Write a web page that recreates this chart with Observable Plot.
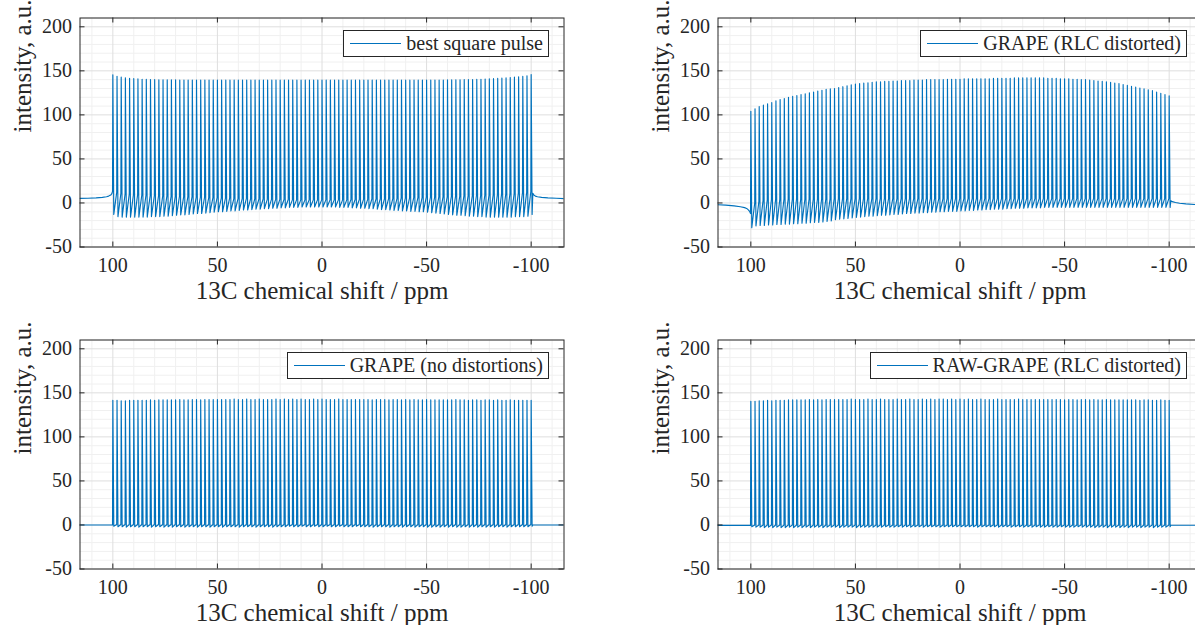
<!DOCTYPE html>
<html><head><meta charset="utf-8">
<script src="https://cdn.jsdelivr.net/npm/d3@7"></script>
<script src="https://cdn.jsdelivr.net/npm/@observablehq/plot@0.6"></script>
<style>
html,body{margin:0;padding:0;background:#fff;}
body{width:1195px;height:625px;overflow:hidden;position:relative;font-family:'Liberation Serif',serif;}
.panel{position:absolute;width:580px;}
.legend{position:absolute;right:31px;top:30px;height:25px;border:1px solid #262626;background:#fff;display:flex;align-items:center;padding:0 5px 0 6px;font-size:20px;color:#262626;white-space:nowrap;box-sizing:content-box;}
.legend .sw{display:inline-block;width:51px;height:1px;background:#0072BD;margin-right:5px;}
</style></head><body>
<script>
// ---- axis / tick definitions ----
const xTicks = [100, 50, 0, -50, -100];
const yTicks = [-50, 0, 50, 100, 150, 200];
const xLabel = "13C chemical shift / ppm";
const yLabel = "intensity, a.u.";
const legendNames = ["best square pulse", "GRAPE (RLC distorted)", "GRAPE (no distortions)", "RAW-GRAPE (RLC distorted)"];
// peak positions (ppm): 100, 98, ..., -100
const peakPpm = d3.range(100, -101, -2);

// ---- panel 1: best square pulse ----
const sqTop = [145.5,143.8,142.8,142.2,141.6,141.2,140.8,140.5,140.3,140.1,
140.0,139.9,139.8,139.8,139.7,139.7,139.6,139.6,139.6,139.5,
139.5,139.5,139.5,139.4,139.4,139.4,139.4,139.4,139.4,139.4,
139.4,139.4,139.4,139.4,139.4,139.4,139.4,139.4,139.4,139.4,
139.4,139.4,139.4,139.4,139.4,139.4,139.4,139.4,139.4,139.4,
139.4,139.4,139.4,139.4,139.4,139.4,139.4,139.4,139.4,139.4,
139.4,139.4,139.4,139.4,139.4,139.4,139.4,139.4,139.4,139.4,
139.4,139.4,139.4,139.4,139.5,139.5,139.5,139.5,139.6,139.6,
139.7,139.7,139.8,139.9,140.0,140.1,140.2,140.3,140.5,140.7,
140.9,141.1,141.4,141.7,142.0,142.4,142.8,143.2,143.7,144.3,
145.8];
const sqDip = [-13,-15.5,-16,-16,-16,-16,-16,-16,-16,-15.5,
-15.5,-15.5,-15,-15,-14.5,-14,-13.5,-13.5,-13,-12.5,
-12,-12,-11.5,-11,-10.5,-10,-10,-9.5,-9,-9,
-8.5,-8,-8,-7.5,-7,-7,-6.5,-6.5,-6,-6,
-5.5,-5.5,-5,-5,-5,-4.5,-4.5,-4.5,-4.5,-4.5,
-4.5,-4.5,-4.5,-4.5,-5,-5,-5,-5.5,-5.5,-6,
-6,-6.5,-6.5,-7,-7.5,-7.5,-8,-8.5,-8.5,-9,
-9,-9.5,-9.5,-10,-10,-10.5,-11,-11.5,-12,-12.5,
-13,-13.5,-14,-14,-14.5,-15,-15,-15.5,-15.5,-16,
-16,-16,-16,-16,-16,-16,-15.5,-15.5,-15.5,-15,
-13];
const sqPre = [13,12,11,10,10,9.5,9.5,9,9,8.5,
8.5,8,8,8,7.5,7.5,7.5,7,7,7,
6.5,6.5,6.5,6,6,6,5.5,5.5,5.5,5,
5,5,5,4.5,4.5,4.5,4.5,4,4,4,
4,4,4,3.5,3.5,3.5,3.5,3.5,3.5,3.5,
3.5,3.5,3.5,3.5,3.5,3.5,3.5,4,4,4,
4,4,4.5,4.5,4.5,4.5,5,5,5,5.5,
5.5,5.5,6,6,6,6.5,6.5,6.5,7,7,
7,7.5,7.5,7.5,8,8,8,8.5,8.5,9,
9,9.5,9.5,10,10,10.5,10.5,11,11.5,12,
13];
const sqLeftX = [115.7,112,108,105,103,102,101,100.5];
const sqLeftY = [5.2,5.4,5.8,6.3,7,7.8,9,10.5];
const sqRightX = [-100.8,-101.3,-102,-103,-105,-108,-112,-115.7];
const sqRightY = [11,9,7.8,7,6.3,5.7,5.3,5];

// ---- panel 2: GRAPE (RLC distorted) ----
const rlcTop = [104,107,109.5,111,112.5,114,116,117.5,118.5,120,
121,122,123,124,125,126,127,128,129,129.5,
130,131,132,133,134,135,135.5,136,136.5,137,
137.5,137.5,138,138,138.5,138.5,139,139,139,139.5,
139.5,139.5,140,140,140,140,140,140.5,140.5,140.5,
140.5,141,141,141,141,141,141,141,141.5,141.5,
141.5,141.5,141.5,142,142,142,142,142,142,142,
142,141.5,141.5,141.5,141,141,141,140.5,140.5,140,
140,139.5,139,138.5,138,137.5,137,136,135.5,134.5,
133.5,132.5,131.5,130.5,129.5,128.5,127.5,126,124.5,123,
121.5];
const rlcDip = [-28,-26,-25.5,-25.5,-25,-25,-24.5,-24.5,-24,-24,
-23.5,-23.5,-23,-23,-22.5,-22,-22,-21.5,-21,-20.5,
-19,-18.5,-18,-17.5,-17,-16.5,-16,-15.5,-15,-15,
-14.5,-14,-14,-13.5,-13,-13,-12.5,-12,-12,-11.5,
-11.5,-11,-11,-10.5,-10.5,-10,-10,-9.5,-9.5,-9.5,
-9,-9,-8.5,-8.5,-8,-8,-7.5,-7.5,-7,-7,
-7,-6.5,-6.5,-6,-6,-6,-5.5,-5.5,-5.5,-5.5,
-5,-5,-5,-5,-5,-5,-5,-5,-5,-5,
-5,-5,-5,-5,-5,-5,-5,-5,-5,-5,
-5,-5,-5,-5,-5,-5,-5,-5,-5,-5,
-5];
const rlcPre = [-12,0,2,3,3.5,4,4,4,4.5,4.5,
4.5,4.5,4.5,4.5,4.5,4.5,4.5,4.5,4.5,4.5,
5,5,5,5,5,5,5,5,5,5,
5,5,5,5,5,5,5,5,5,5,
5,5,5,5,5,5,5,5,5,5,
5,5,5,5,5,5,5,5,5,5,
5,5,5,5,5,5,5,5,5,5,
5,5,5,5,5,5,5,5,5,5,
5,5,5,5,5,5,5,5,5,5,
5,5,5,5,5,5,5,5,5,5,
5];
const rlcLeftX = [115.7,112,108,105,103,102,101.2,100.6];
const rlcLeftY = [-2,-2.5,-3.3,-4.3,-5.3,-6.2,-7.8,-9.5];
const rlcRightX = [-100.8,-101.5,-103,-105,-108,-112,-115.7];
const rlcRightY = [2.5,1.5,0.5,-0.3,-1,-1.7,-2];

// ---- panel 3: GRAPE (no distortions) ----
const ndTop = [141.5,141.5,141,141,141.5,141.5,141.5,141.5,141.5,142,
141.5,142,142,142,142,142,142.5,142,142,142.5,
142.5,142,142.5,142.5,142.5,142.5,142.5,142.5,142.5,143,
142.5,142.5,143,142.5,142.5,143,142.5,142.5,142.5,143,
142.5,143,142.5,143,142.5,143,142.5,142.5,143,142.5,
143,142.5,142.5,142.5,143,142.5,142.5,142.5,142.5,142.5,
142.5,142.5,142,142.5,142.5,142.5,142,142.5,142.5,142,
142.5,142,142.5,142,142,142.5,142,142,142,142,
142,142,142.5,142,142,141.5,142,142,141.5,142,
142,141.5,142,141.5,141.5,142,141.5,141.5,141.5,141.5,
141.5];
const ndDip = [-1.5,-2,-2,-2.5,-2,-2,-2.5,-2,-2,-2.5,
-2,-2,-2.5,-2,-2.5,-2,-2,-2.5,-2,-2,
-2.5,-2,-2,-2.5,-2,-2,-2.5,-2,-2,-2,
-2.5,-2,-2,-2,-2.5,-2,-2,-2,-2.5,-2,
-2,-2,-1.5,-2,-2,-1.5,-2,-2,-1.5,-2,
-2,-1.5,-2,-2,-1.5,-2,-2,-2,-1.5,-2,
-2,-2,-2.5,-2,-2,-2,-2.5,-2,-2,-2.5,
-2,-2,-2.5,-2,-2,-2.5,-2.5,-2,-2.5,-2,
-2.5,-2,-2.5,-2.5,-2,-2.5,-2,-2.5,-2,-2.5,
-2,-2.5,-2,-2,-2.5,-2,-2,-2,-2,-2,
-1.5];
const ndPre = [0,0.5,0.5,0.5,0.5,0.5,0.5,0.5,0.5,0.5,
0.5,0.5,0.5,0.5,0.5,0.5,0.5,0.5,0.5,0.5,
0.5,0.5,0.5,0.5,0.5,0.5,0.5,0.5,0.5,0.5,
0.5,0.5,0.5,0.5,0.5,0.5,0.5,0.5,0.5,0.5,
0.5,0.5,0.5,0.5,0.5,0.5,0.5,0.5,0.5,0.5,
0.5,0.5,0.5,0.5,0.5,0.5,0.5,0.5,0.5,0.5,
0.5,0.5,0.5,0.5,0.5,0.5,0.5,0.5,0.5,0.5,
0.5,0.5,0.5,0.5,0.5,0.5,0.5,0.5,0.5,0.5,
0.5,0.5,0.5,0.5,0.5,0.5,0.5,0.5,0.5,0.5,
0.5,0.5,0.5,0.5,0.5,0.5,0.5,0.5,0.5,0.5,
0.5];
const ndLeftX = [115.7,100.3];
const ndLeftY = [0,0];
const ndRightX = [-100.8,-115.7];
const ndRightY = [0,0];

// ---- panel 4: RAW-GRAPE (RLC distorted) ----
const rawTop = [140.5,140.5,141,141,141.5,141,141.5,141.5,141.5,142,
142,142,142,142,142.5,142,142.5,142,142.5,142.5,
142.5,142.5,142.5,142.5,143,142.5,142.5,142.5,143,142.5,
142.5,143,142.5,142.5,142.5,143,142.5,142.5,143,142.5,
142.5,143,142.5,143,142.5,143,143,142.5,143,142.5,
143,142.5,143,142.5,142.5,143,142.5,142.5,142.5,143,
142.5,142.5,142.5,142.5,143,142.5,142.5,142.5,142.5,142.5,
142.5,142.5,142.5,142.5,142.5,142,142.5,142.5,142,142.5,
142.5,142,142.5,142,142,142.5,142,142,142,142,
142,142,142,141.5,142,142,141.5,141.5,142,141.5,
141.5];
const rawDip = [-2,-2.5,-2.5,-3,-2.5,-3,-2.5,-3,-3,-2.5,
-3,-2.5,-3,-2.5,-3,-2.5,-2.5,-3,-2.5,-2.5,
-2.5,-3,-2.5,-2.5,-2.5,-3,-2.5,-2.5,-2.5,-2.5,
-2.5,-2.5,-2,-2.5,-2.5,-2,-2.5,-2,-2.5,-2,
-2,-2.5,-2,-2,-2,-2.5,-2,-2,-2,-2,
-2,-2,-2,-2,-2.5,-2,-2,-2,-2,-2.5,
-2,-2,-2.5,-2,-2,-2.5,-2,-2.5,-2,-2.5,
-2.5,-2,-2.5,-2.5,-2,-2.5,-2.5,-2.5,-2,-2.5,
-2.5,-2.5,-3,-2.5,-2.5,-3,-2.5,-2.5,-3,-2.5,
-3,-2.5,-2.5,-3,-2.5,-2.5,-3,-2.5,-2.5,-2.5,
-2];
const rawPre = [-0.5,0,0,0,0,0,0,0,0,0,
0,0,0,0,0,0,0,0,0,0,
0,0,0,0,0,0,0,0,0,0,
0,0,0,0,0,0,0,0,0,0,
0,0,0,0,0,0,0,0,0,0,
0,0,0,0,0,0,0,0,0,0,
0,0,0,0,0,0,0,0,0,0,
0,0,0,0,0,0,0,0,0,0,
0,0,0,0,0,0,0,0,0,0,
0,0,0,0,0,0,0,0,0,0,
0];
const rawLeftX = [115.7,100.3];
const rawLeftY = [-0.5,-0.5];
const rawRightX = [-100.8,-115.7];
const rawRightY = [-0.3,-0.3];

// ---- build spectra from the arrays ----
function buildSeries(lx, ly, tops, dips, pres, rx, ry) {
  const pts = [];
  lx.forEach((x, i) => pts.push({x, y: ly[i]}));
  peakPpm.forEach((p, i) => {
    pts.push({x: p + 0.15, y: pres[i]});
    pts.push({x: p, y: tops[i]});
    pts.push({x: p - 0.45, y: dips[i]});
  });
  rx.forEach((x, i) => pts.push({x, y: ry[i]}));
  return pts;
}

const panels = [
  {left: 0,   top: 0,   h: 322, name: legendNames[0], data: buildSeries(sqLeftX, sqLeftY, sqTop, sqDip, sqPre, sqRightX, sqRightY)},
  {left: 638, top: 0,   h: 322, name: legendNames[1], data: buildSeries(rlcLeftX, rlcLeftY, rlcTop, rlcDip, rlcPre, rlcRightX, rlcRightY)},
  {left: 0,   top: 322, h: 303, name: legendNames[2], data: buildSeries(ndLeftX, ndLeftY, ndTop, ndDip, ndPre, ndRightX, ndRightY)},
  {left: 638, top: 322, h: 303, name: legendNames[3], data: buildSeries(rawLeftX, rawLeftY, rawTop, rawDip, rawPre, rawRightX, rawRightY)}
];

const minorX = d3.range(-110, 111, 10).filter(d => d % 50 !== 0);
const minorY = d3.range(-50, 211, 10).filter(d => d % 50 !== 0);
const ML = 79.5, MT = 17.5, FW = 484, FH = 229, W = 580;
const ink = "#262626";
const serif = "Liberation Serif";

panels.forEach(p => {
  const div = document.createElement("div");
  div.className = "panel";
  div.style.left = p.left + "px";
  div.style.top = p.top + "px";
  div.style.height = p.h + "px";
  const chart = Plot.plot({
    width: W, height: p.h,
    marginLeft: ML, marginRight: W - ML - FW, marginTop: MT, marginBottom: p.h - MT - FH,
    x: {domain: [115.7, -115.7]},
    y: {domain: [-50, 210]},
    marks: [
      Plot.ruleX(minorX, {x: d => d, stroke: "#f0f0f0", strokeWidth: 1}),
      Plot.ruleY(minorY, {y: d => d, stroke: "#f0f0f0", strokeWidth: 1}),
      Plot.ruleX(xTicks, {x: d => d, stroke: "#dedede", strokeWidth: 1}),
      Plot.ruleY(yTicks, {y: d => d, stroke: "#dedede", strokeWidth: 1}),
      Plot.line(p.data, {x: "x", y: "y", stroke: "#0072BD", strokeWidth: 1.15, clip: true, curve: "linear"}),
      Plot.frame({stroke: ink, strokeWidth: 1}),
      Plot.ruleX(xTicks, {x: d => d, stroke: ink, insetTop: FH - 5}),
      Plot.ruleX(xTicks, {x: d => d, stroke: ink, insetBottom: FH - 5}),
      Plot.ruleY(yTicks, {y: d => d, stroke: ink, insetRight: FW - 5}),
      Plot.ruleY(yTicks, {y: d => d, stroke: ink, insetLeft: FW - 5}),
      Plot.axisX(xTicks, {tickSize: 0, tickPadding: 11, tickFormat: d => String(d), fontSize: 20, fontFamily: serif, fill: ink, label: null}),
      Plot.axisY(yTicks, {tickSize: 0, tickPadding: 8, tickFormat: d => String(d), fontSize: 20, fontFamily: serif, fill: ink, label: null}),
      Plot.text([xLabel], {text: d => d, frameAnchor: "bottom", dy: 52, fontSize: 25, fontFamily: serif, fill: ink}),
      Plot.text([yLabel], {text: d => d, frameAnchor: "left", dx: -57.5, rotate: -90, fontSize: 25, fontFamily: serif, fill: ink})
    ]
  });
  div.appendChild(chart);
  const lg = document.createElement("div");
  lg.className = "legend";
  lg.innerHTML = '<span class="sw"></span><span></span>';
  lg.lastChild.textContent = p.name;
  div.appendChild(lg);
  document.body.appendChild(div);
});
</script>
</body></html>
